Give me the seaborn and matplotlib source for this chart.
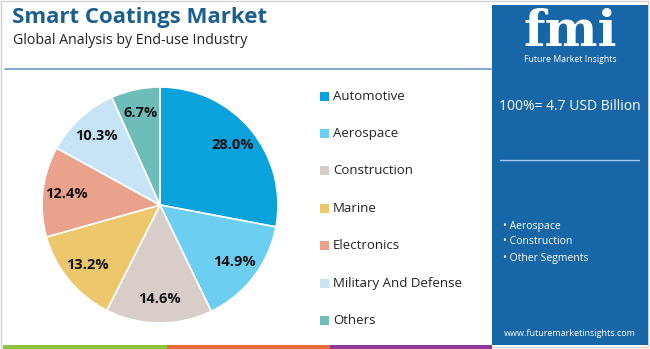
import matplotlib
matplotlib.use("Agg")
import matplotlib.pyplot as plt
import seaborn as sns
from matplotlib.patches import Rectangle

sns.set_style("white")
plt.rcParams['font.family'] = ['Open Sans', 'DejaVu Sans']

categories = ["Automotive", "Aerospace", "Construction", "Marine",
              "Electronics", "Military And Defense", "Others"]
shares = [28.0, 14.9, 14.6, 13.2, 12.4, 10.3, 6.7]
colors = ["#0aa2db", "#6ccff2", "#d8cdc9", "#ecc76b", "#eaa28c", "#c6e4f6", "#6fbdb9"]
bullets = ["Aerospace", "Construction", "Other Segments"]

W, H = 650, 349
fig = plt.figure(figsize=(W / 100, H / 100), dpi=100)
fig.patch.set_facecolor("white")

def fx(px):
    return px / W

def fy(py):
    return 1 - py / H

# outer border
fig.add_artist(Rectangle((fx(1), fy(347)), fx(647), 346 / H, transform=fig.transFigure,
                         fill=False, edgecolor="#d0d0d0", linewidth=1))

# title
fig.text(fx(12), fy(18), "Smart Coatings Market", fontsize=16, fontweight="bold",
         color="#1b5f8f", va="center", ha="left")
fig.text(fx(13), fy(41), "Global Analysis by End-use Industry", fontsize=10.2,
         color="#222222", va="center", ha="left")
fig.add_artist(plt.Line2D([fx(5), fx(492)], [fy(69), fy(69)], transform=fig.transFigure,
                          color="#6b98c4", linewidth=1.2))

# pie
cx, cy, r = 160, 205, 118
ax = fig.add_axes([fx(cx - r), fy(cy + r), 2 * r / W, 2 * r / H])
wedges, texts, autotexts = ax.pie(shares, colors=colors, startangle=90, counterclock=False,
                                  autopct="%.1f%%", pctdistance=0.8,
                                  wedgeprops=dict(edgecolor="white", linewidth=1.2))
for t in autotexts:
    t.set_fontsize(10.5)
    t.set_fontweight("bold")
    t.set_color("#111111")
ax.set_xlim(-1, 1)
ax.set_ylim(-1, 1)
ax.set_aspect("equal")

# legend
for i, (cat, col) in enumerate(zip(categories, colors)):
    y = 96 + i * 37.4
    fig.add_artist(Rectangle((fx(320), fy(y + 4.5)), fx(9), 9 / H, transform=fig.transFigure,
                             facecolor=col, edgecolor="none"))
    fig.text(fx(333), fy(y), cat, fontsize=9.5, color="#222222", va="center", ha="left")

# right panel
fig.add_artist(Rectangle((fx(492), fy(345)), fx(156), 340 / H, transform=fig.transFigure,
                         facecolor="#1767a8", edgecolor="none"))
fig.text(fx(570), fy(32), "fmi", fontsize=36, fontweight="bold", color="white",
         ha="center", va="center", family=["DejaVu Serif"])
fig.text(fx(570), fy(60), "Future Market Insights", fontsize=6.3, color="white",
         ha="center", va="center")
fig.text(fx(570), fy(106), "100%= 4.7 USD Billion", fontsize=10, color="white",
         ha="center", va="center")
fig.add_artist(plt.Line2D([fx(500), fx(639)], [fy(160), fy(160)], transform=fig.transFigure,
                          color="#a9c8e6", linewidth=1))
for i, b in enumerate(bullets):
    y = [227, 241, 258][i]
    fig.text(fx(503), fy(y), "\u2022 " + b, fontsize=7.5, color="white", ha="left", va="center")
fig.text(fx(570), fy(333), "www.futuremarketinsights.com", fontsize=6.5, color="white",
         ha="center", va="center")

# bottom colour bar
for x0, x1, c in [(3, 167, "#8cc63f"), (167, 330, "#e8693a"), (330, 492, "#8e3a96")]:
    fig.add_artist(Rectangle((fx(x0), 0), fx(x1 - x0), 4 / H, transform=fig.transFigure,
                             facecolor=c, edgecolor="none"))

fig.savefig("out.png", dpi=100)
